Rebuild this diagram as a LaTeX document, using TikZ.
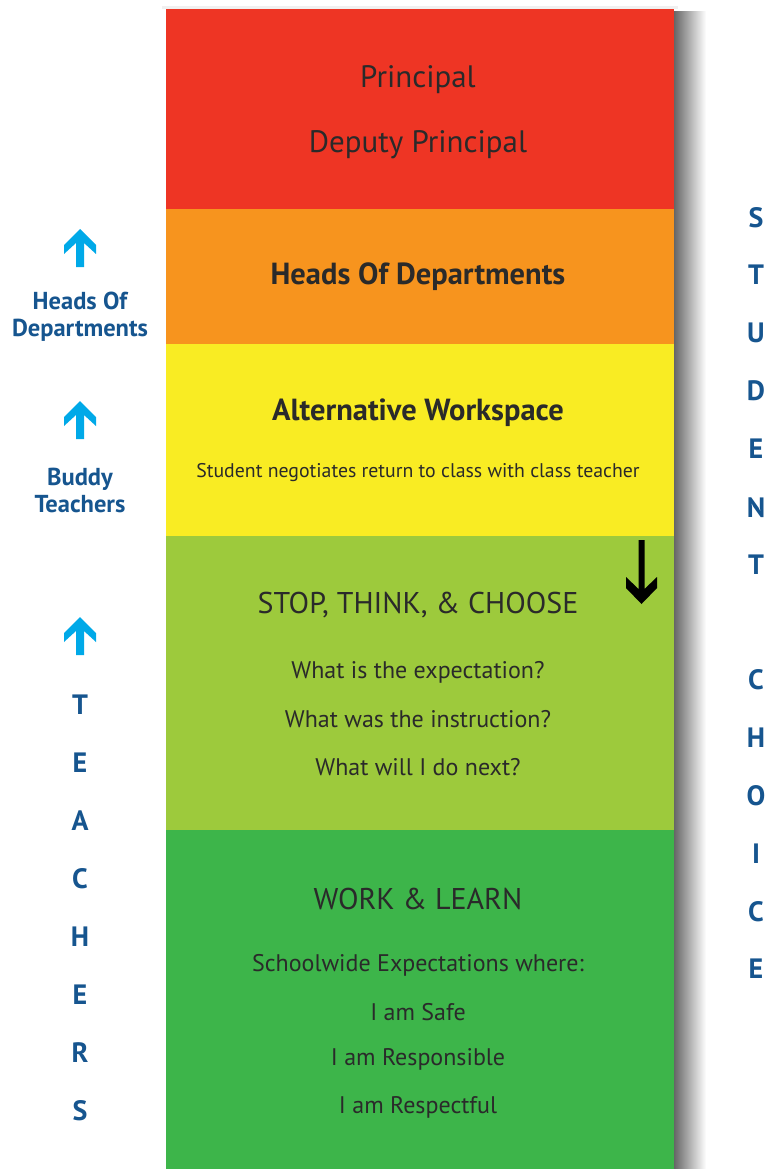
\documentclass[tikz,border=0pt]{standalone}
\usepackage{fontspec}
\setmainfont{PT Sans}
\definecolor{cred}{HTML}{EE3524}
\definecolor{corange}{HTML}{F7941E}
\definecolor{cyellow}{HTML}{F9EC23}
\definecolor{clime}{HTML}{9DCA3C}
\definecolor{cgreen}{HTML}{3DB54A}
\definecolor{ctext}{HTML}{2A2A2A}
\definecolor{cblue}{HTML}{16558F}
\definecolor{ccyan}{HTML}{00A9E8}
\begin{document}
\begin{tikzpicture}[x=1pt,y=-1pt,
  band/.style={fill=#1,draw=none},
  big/.style={text=ctext,font=\fontsize{31}{34}\selectfont},
  head/.style={text=ctext,font=\fontsize{30}{34}\selectfont},
  headb/.style={text=ctext,font=\bfseries\fontsize{30.5}{34}\selectfont},
  small/.style={text=ctext,font=\fontsize{24}{28}\selectfont},
  tiny/.style={text=ctext,font=\fontsize{19.8}{22}\selectfont},
  side/.style={text=cblue,font=\bfseries\fontsize{24.5}{29}\selectfont,align=center},
  letter/.style={text=cblue,font=\bfseries\fontsize{28}{30}\selectfont},
  uparrow/.style={fill=ccyan,draw=none},
  downarrow/.style={fill=black,draw=none}]
\useasboundingbox (0,0) rectangle (769,1169);
\fill[white] (0,0) rectangle (769,1169);
% shadow
\shade[left color=black!60,right color=white,draw=none] (674,12) rectangle (706,1169);
\fill[black!6] (162,6) rectangle (678,9);
% bands
\fill[band=cred] (166,9) rectangle (674,209);
\fill[band=corange] (166,209) rectangle (674,344);
\fill[band=cyellow] (166,344) rectangle (674,536);
\fill[band=clime] (166,536) rectangle (674,830);
\fill[band=cgreen] (166,830) rectangle (674,1169);
% band texts
\node[big] (principal) at (418,80) {Principal};
\node[big] (deputy) at (418,145) {Deputy Principal};
\node[headb] (hods) at (418,277) {Heads Of Departments};
\node[headb] (alt) at (418,413) {Alternative Workspace};
\node[tiny] (negot) at (418,473) {Student negotiates return to class with class teacher};
\node[head] (stop) at (418,605) {STOP, THINK, \& CHOOSE};
\node[small] (q1) at (418,672) {What is the expectation?};
\node[small] (q2) at (418,719) {What was the instruction?};
\node[small] (q3) at (418,767) {What will I do next?};
\node[head] (work) at (418,899) {WORK \& LEARN};
\node[small] (sw) at (418,965) {Schoolwide Expectations where:};
\node[small] (safe) at (418,1012) {I am Safe};
\node[small] (resp) at (418,1059) {I am Responsible};
\node[small] (respect) at (418,1107) {I am Respectful};
% down arrow
\fill[downarrow] (638.5,540) -- (644.5,540) -- (644.5,589) -- (657,577) -- (657,588) -- (641.5,604) -- (626,588) -- (626,577) -- (638.5,589) -- cycle;
% left side
\foreach \yy in {229,401,617}{
  \fill[uparrow] (80,\yy) -- (96,\yy+16) -- (96,\yy+25) -- (84,\yy+14) -- (84,\yy+38) -- (76,\yy+38) -- (76,\yy+14) -- (64,\yy+25) -- (64,\yy+16) -- cycle;
}
\node[side] (hodl) at (80,317) {Heads Of\\[-2pt]Departments};
\node[side] (buddy) at (80,490) {Buddy\\[-2pt]Teachers};
\foreach \c [count=\i] in {T,E,A,C,H,E,R,S}{
  \node[letter] (t\i) at (80,705+58*\i-58) {\c};
}
\foreach \c/\yy [count=\i] in {S/218,T/275,U/333,D/391,E/449,N/508,T/565,C/680,H/738,O/796,I/854,C/912,E/969}{
  \node[letter] (s\i) at (756,\yy) {\c};
}
\end{tikzpicture}
\end{document}
